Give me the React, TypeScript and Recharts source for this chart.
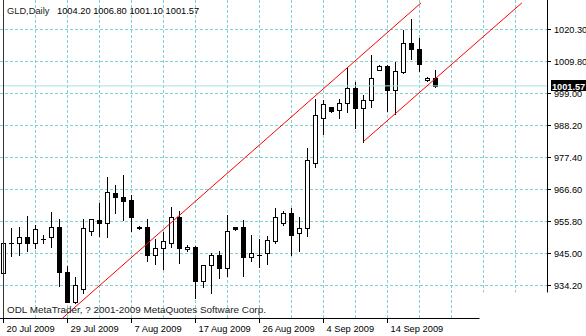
import {
  ComposedChart,
  Bar,
  XAxis,
  YAxis,
  CartesianGrid,
  ReferenceLine,
} from "recharts";

// GLD daily candles, 20 Jul 2009 .. 17 Sep 2009 (Sunday sessions included)
const opens = [
  938.25, 948.7, 948.38, 950.4, 948.38, 950.06, 950.4, 954.11, 938.59, 928.6,
  932.85, 952.43, 956.14, 955.46, 965.25, 963.9, 962.89, 954.11, 953.78, 944.66,
  946.69, 948.71, 957.15, 946.35, 947.36, 935.55, 940.95, 944.66, 939.94, 953.78,
  953.78, 943.65, 944.66, 945.0, 949.05, 955.13, 958.5, 951.75, 953.44, 975.71,
  990.9, 994.28, 993.6, 995.63, 1000.69, 993.94, 996.64, 1007.1, 1008.45, 1000.35,
  1006.09, 1016.21, 1014.19, 1003.39, 1004.2,
];
const highs = [
  955.46, 953.44, 954.11, 957.49, 954.45, 951.08, 958.84, 956.48, 940.61, 936.9,
  956.48, 956.81, 962.21, 970.65, 967.95, 971.66, 964.58, 954.3, 956.48, 949.73,
  952.09, 960.53, 959.51, 947.7, 947.5, 941.0, 945.0, 945.68, 958.16, 954.0,
  956.14, 951.08, 949.73, 950.74, 960.19, 959.51, 960.19, 957.15, 980.44, 997.31,
  996.64, 994.4, 996.98, 1007.78, 1003.05, 998.33, 1011.83, 1008.5, 1008.5, 1009.8,
  1020.6, 1024.31, 1017.9, 1004.5, 1006.8,
];
const lows = [
  937.91, 943.99, 944.33, 945.68, 946.69, 948.38, 947.36, 933.86, 928.46, 928.3,
  931.5, 951.41, 950.74, 950.4, 958.5, 956.14, 952.76, 953.3, 942.3, 941.29,
  939.6, 947.36, 941.96, 946.0, 929.81, 933.53, 931.5, 936.56, 937.24, 952.9,
  937.24, 942.3, 940.28, 941.29, 948.38, 954.45, 944.66, 946.01, 950.74, 974.03,
  985.5, 992.8, 990.9, 992.59, 987.19, 982.8, 994.28, 1007.0, 993.26, 992.25,
  1006.0, 1010.48, 1006.43, 1003.3, 1001.1,
];
const closes = [
  948.71, 948.7, 950.4, 948.71, 953.1, 950.06, 953.78, 938.59, 928.6, 934.2,
  953.44, 956.48, 955.13, 965.59, 963.9, 962.55, 957.15, 953.44, 944.66, 946.69,
  949.05, 957.15, 946.69, 947.36, 935.55, 940.95, 944.66, 939.94, 952.76, 953.1,
  943.65, 945.0, 944.66, 949.39, 957.15, 958.5, 951.41, 953.44, 976.39, 991.58,
  995.29, 992.93, 995.63, 1000.69, 993.94, 996.64, 1004.4, 1008.45, 1000.35, 1006.43,
  1016.21, 1014.19, 1008.79, 1004.4, 1001.57,
];

const dateTicks = [0, 8, 16, 24, 32, 40, 48];
const dateLabels = [
  "20 Jul 2009",
  "29 Jul 2009",
  "7 Aug 2009",
  "17 Aug 2009",
  "26 Aug 2009",
  "4 Sep 2009",
  "14 Sep 2009",
];
const priceTicks = [934.2, 945.0, 955.8, 966.6, 977.4, 988.2, 999.0, 1009.8, 1020.6];
const priceLabels = [
  "934.20", "945.00", "955.80", "966.60", "977.40", "988.20", "999.00", "1009.80", "1020.30",
];
const lastPrice = 1001.57;

// channel drawn on the chart (bar index, price)
const upperChannel = [
  { x: 7.3, y: 923.0 },
  { x: 52.2, y: 1029.6 },
];
const lowerChannel = [
  { x: 45, y: 982.8 },
  { x: 64.8, y: 1029.6 },
];

const gridCols = [4, 8, 12, 16, 20, 24, 28, 32, 36, 40, 44, 48, 52, 56];
const shortGridCols = [60, 64];

const X_DOMAIN: [number, number] = [-0.4375, 68.0625];
const Y_DOMAIN: [number, number] = [922.89, 1030.56];
const FONT = "'Liberation Sans', Arial, sans-serif";
const GRID = "#7fd2d2";

const data = opens.map((o, i) => ({
  i,
  open: o,
  high: highs[i],
  low: lows[i],
  close: closes[i],
  range: [lows[i], highs[i]],
}));

function Candle(props: any) {
  const { x, y, width, height, payload } = props;
  if (x == null || !payload) return null;
  const cx = Math.floor(x + width / 2) + 0.5;
  const top = Math.min(y, y + height);
  const span = Math.abs(height);
  const { open, close, high, low } = payload;
  const py = (v: number) => top + ((high - v) / (high - low)) * span;
  const yo = py(open);
  const yc = py(close);
  const bTop = Math.round(Math.min(yo, yc));
  const bBot = Math.round(Math.max(yo, yc));
  const bull = close > open;
  return (
    <g>
      <line
        x1={cx}
        x2={cx}
        y1={Math.round(top)}
        y2={Math.round(top + span) + 1}
        stroke="#000"
        strokeWidth={1}
      />
      {bBot - bTop < 1 ? (
        <line x1={cx - 2.5} x2={cx + 2.5} y1={bTop + 0.5} y2={bTop + 0.5} stroke="#000" />
      ) : (
        <rect
          x={cx - 2}
          y={bTop + 0.5}
          width={4}
          height={bBot - bTop}
          fill={bull ? "#fff" : "#000"}
          stroke="#000"
          strokeWidth={1}
        />
      )}
    </g>
  );
}

function DateTick(props: any) {
  const { x, y, index } = props;
  return (
    <text x={x + 3} y={y + 7} fontSize={9.3} fontFamily={FONT} fill="#000" textAnchor="start">
      {dateLabels[index]}
    </text>
  );
}

function PriceTag(props: any) {
  const vb = props.viewBox;
  if (!vb) return null;
  const bx = vb.x + vb.width + 3;
  const by = Math.round(vb.y);
  return (
    <g>
      <rect x={bx} y={by - 6} width={36} height={11} fill="#000" />
      <text x={bx + 1} y={by + 3.5} fontSize={9.2} fontWeight="bold" fontFamily={FONT} fill="#fff">
        {lastPrice.toFixed(2)}
      </text>
    </g>
  );
}

export default function App() {
  return (
    <div style={{ position: "absolute", left: 0, top: 0, width: 586, height: 336, background: "#fff" }}>
      <ComposedChart
        width={586}
        height={336}
        data={data}
        margin={{ top: 0, right: 0, bottom: 0, left: 0 }}
      >
        <CartesianGrid
          stroke={GRID}
          strokeDasharray="3 2"
          horizontalValues={priceTicks}
          verticalValues={gridCols}
        />
        <XAxis
          type="number"
          dataKey="i"
          domain={X_DOMAIN}
          allowDataOverflow
          ticks={dateTicks}
          interval={0}
          height={17}
          axisLine={false}
          tickLine={{ stroke: "#000" }}
          tickSize={4}
          tickMargin={2}
          tick={<DateTick />}
        />
        <YAxis
          type="number"
          orientation="right"
          domain={Y_DOMAIN}
          allowDataOverflow
          ticks={priceTicks}
          interval={0}
          width={38}
          axisLine={false}
          tickLine={{ stroke: "#000" }}
          tickSize={3}
          tickMargin={3}
          tick={{ fontSize: 9.2, fontFamily: FONT, fill: "#000" }}
          tickFormatter={(v: number) => priceLabels[priceTicks.indexOf(v)] ?? v.toFixed(2)}
        />
        {shortGridCols.map((c) => (
          <ReferenceLine
            key={c}
            segment={[
              { x: c, y: Y_DOMAIN[1] },
              { x: c, y: 931.84 },
            ]}
            stroke={GRID}
            strokeDasharray="3 2"
          />
        ))}
        <ReferenceLine y={lastPrice} stroke="#a8e2e2" label={<PriceTag />} />
        <ReferenceLine x={0} stroke="#333" />
        <ReferenceLine
          segment={[
            { x: 68, y: Y_DOMAIN[1] },
            { x: 68, y: 931.84 },
          ]}
          stroke="#000"
        />
        <ReferenceLine
          segment={[
            { x: X_DOMAIN[0], y: 923.06 },
            { x: 59.5, y: 923.06 },
          ]}
          stroke="#000"
        />
        <Bar dataKey="range" barSize={5} shape={<Candle />} isAnimationActive={false} />
        <ReferenceLine segment={upperChannel} stroke="#ff0000" />
        <ReferenceLine segment={lowerChannel} stroke="#ff0000" />
      </ComposedChart>
      <svg
        width={586}
        height={336}
        style={{ position: "absolute", left: 0, top: 0, pointerEvents: "none" }}
      >
        <text x={7} y={14} fontSize={9.3} fontFamily={FONT} fill="#222">
          GLD,Daily
        </text>
        <text x={57} y={14} fontSize={9.3} fontFamily={FONT} fill="#000">
          1004.20 1006.80 1001.10 1001.57
        </text>
        <text x={7} y={313} fontSize={9.9} fontFamily={FONT} fill="#222">
          ODL MetaTrader, ? 2001-2009 MetaQuotes Software Corp.
        </text>
      </svg>
    </div>
  );
}
